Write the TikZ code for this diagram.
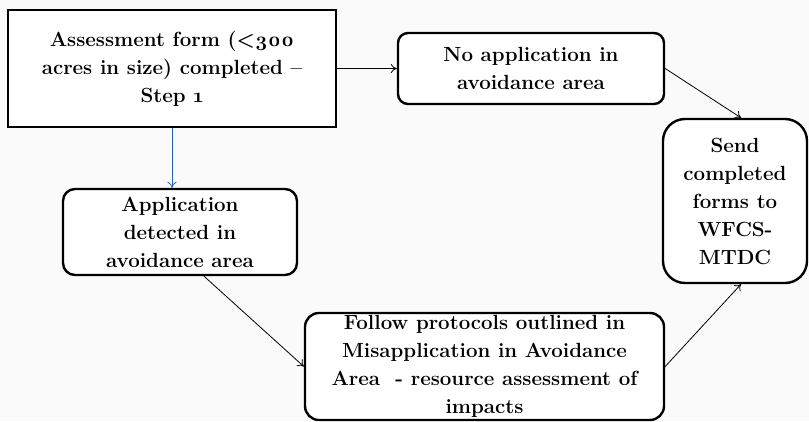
\documentclass[tikz,border=0pt]{standalone}
\usepackage{fontspec}
\setmainfont{Latin Modern Roman}[Numbers=OldStyle]
\usetikzlibrary{arrows.meta}
\definecolor{bgc}{RGB}{250,250,250}
\definecolor{arrowblue}{RGB}{31,100,180}
\begin{document}
\begin{tikzpicture}[x=1pt,y=-1pt,
  box/.style={draw=black,line width=2.4pt,fill=white,inner sep=0pt,align=center,
    font=\fontsize{20.5}{28}\selectfont\bfseries},
  rbox/.style={box,rounded corners=#1},
  conn/.style={line width=0.8pt,-{To[length=6pt,width=9pt]}}]
\fill[bgc] (0,0) rectangle (809,421);
\useasboundingbox (0,0) rectangle (809,421);
\node[box,minimum width=328pt,minimum height=117pt] (A) at (172,68.5)
  {Assessment form (<300\\acres in size) completed –\\Step 1};
\node[rbox=10pt,minimum width=266pt,minimum height=71pt] (B) at (531,68.5)
  {No application in\\avoidance area};
\node[rbox=22pt,minimum width=144pt,minimum height=164pt] (C) at (735,201)
  {Send\\completed\\forms to\\WFCS-\\MTDC};
\node[rbox=12pt,minimum width=234pt,minimum height=86pt] (D) at (180,232)
  {Application\\detected in\\avoidance area};
\node[rbox=14pt,minimum width=359pt,minimum height=107pt] (E) at (484.5,366.5)
  {Follow protocols outlined in\\Misapplication in Avoidance\\Area~ - resource assessment of\\impacts};
\draw[conn] (A.east) -- (B.west);
\draw[conn,arrowblue] (A.south) -- (A.south |- D.north);
\draw[conn] (B.east) -- ([xshift=6pt]C.north);
\draw[conn] ([xshift=24pt]D.south) -- (E.west);
\draw[conn] (E.east) -- ([xshift=6pt]C.south);
\end{tikzpicture}
\end{document}
